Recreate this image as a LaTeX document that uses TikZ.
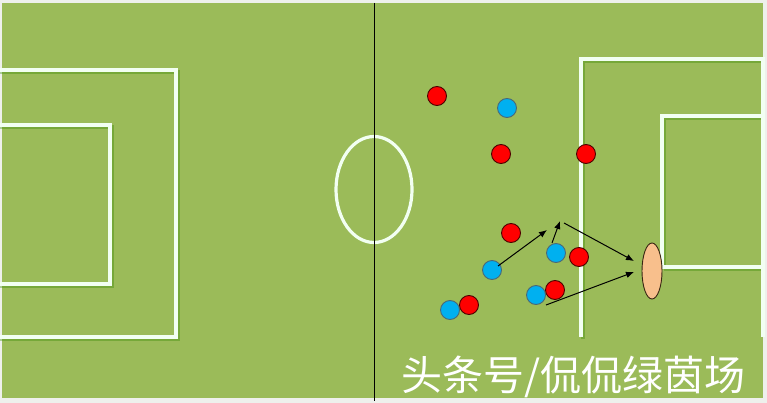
\documentclass[tikz,border=0pt]{standalone}
\usepackage{fontspec}
\usetikzlibrary{shapes.geometric,arrows.meta}
\newfontfamily\cjk{Noto Sans CJK SC}
\begin{document}
\begin{tikzpicture}[x=1pt,y=-1pt,
  fieldline/.style={draw=white!95!green, line width=3.2pt},
  shadowline/.style={draw=black!45!green!60!olive, line width=3.2pt, opacity=0.35},
  red player/.style={circle, draw=black!70!red, line width=0.9pt, fill=red, minimum size=19pt, inner sep=0pt},
  blue player/.style={circle, draw=black!60!cyan, line width=0.9pt, fill=playerblue, minimum size=19pt, inner sep=0pt},
  run/.style={-{Latex[length=8pt,width=6.5pt]}, line width=1pt, black}]
\definecolor{pitch}{HTML}{9BBB59}
\definecolor{margin}{HTML}{EEF0EC}
\definecolor{ball}{HTML}{F8BF8C}
\definecolor{playerblue}{HTML}{00B0F0}
\useasboundingbox (0,0) rectangle (767,403);
\fill[margin] (0,0) rectangle (767,403);
\fill[pitch] (2,3) rectangle (763,398);
% shadows
\draw[shadowline] (0,72) -- (178,72) -- (178,339) -- (0,339);
\draw[shadowline] (0,127) -- (112,127) -- (112,286) -- (0,286);
\draw[shadowline] (583,339) -- (583,61) -- (763,61);
\draw[shadowline] (664,269) -- (664,118) -- (763,118);
\draw[shadowline] (664,269) -- (763,269);
% left boxes
\draw[fieldline] (0,70) -- (176,70) -- (176,337) -- (0,337);
\draw[fieldline] (0,125) -- (110,125) -- (110,284) -- (0,284);
% right boxes
\draw[fieldline] (581,337) -- (581,59) -- (763,59) -- (763,337);
\draw[fieldline] (662,267) -- (662,116) -- (763,116);
\draw[fieldline] (662,267) -- (763,267);
% centre circle and line
\draw[fieldline] (374,189.5) ellipse [x radius=38, y radius=53];
\draw[black, line width=0.8pt] (374,3) -- (374,401);
% players
\node[red player] (r1) at (437,96) {};
\node[blue player] (b1) at (507,108) {};
\node[red player] (r2) at (501,154) {};
\node[red player] (r3) at (586,154) {};
\node[red player] (r4) at (511,233) {};
\node[blue player] (b2) at (492,270) {};
\node[blue player] (b3) at (556,253) {};
\node[red player] (r5) at (579,257) {};
\node[blue player] (b4) at (536,295) {};
\node[red player] (r6) at (555,290) {};
\node[blue player] (b5) at (450,310) {};
\node[red player] (r7) at (469,305) {};
% goal target
\node[ellipse, draw=black!70!brown, line width=0.9pt, fill=ball, minimum width=20pt, minimum height=56pt, inner sep=0pt] (g) at (652,271) {};
% runs
\coordinate (p1) at (547,230);
\coordinate (p2) at (560,221);
\coordinate (p3) at (564,223);
\coordinate (p4) at (634,261);
\coordinate (p5) at (546,305);
\coordinate (p6) at (634,272);
\coordinate (s1) at (498,266);
\coordinate (s2) at (552,243);
\draw[run] (s1) -- (p1);
\draw[run] (s2) -- (p2);
\draw[run] (p3) -- (p4);
\draw[run] (p5) -- (p6);
% watermark
\node[text=white, anchor=west, inner sep=0pt, font=\cjk\fontsize{41}{41}\selectfont] (wm) at (401,377) {头条号/侃侃绿茵场};
\end{tikzpicture}
\end{document}
